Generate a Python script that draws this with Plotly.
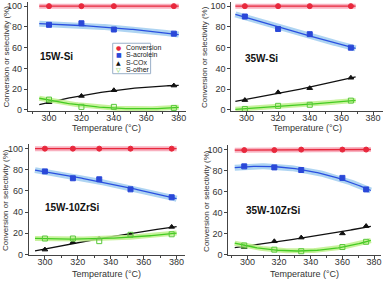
import numpy as np
import plotly.graph_objects as go

# ---------------- data ----------------
panel_names = ["15W-Si", "35W-Si", "15W-10ZrSi", "35W-10ZrSi"]

temp_15WSi = [300, 320, 340, 377]
conv_15WSi = [100, 100, 100, 100]
acro_15WSi = [82, 83.5, 77.5, 73.5]
cox_15WSi = [7.5, 13.5, 19, 23.5]
other_15WSi = [10, 3, 3, 2]

temp_35WSi = [299, 320, 340, 366]
conv_35WSi = [100, 100, 100, 100]
acro_35WSi = [90, 78, 73, 60]
cox_35WSi = [9.5, 17, 21, 31]
other_35WSi = [1, 4, 5, 9]

temp_15W10Zr = [300, 317, 333, 352, 377]
conv_15W10Zr = [100, 100, 100, 100, 100]
acro_15W10Zr = [78.5, 72, 71, 61.5, 54]
cox_15W10Zr = [4.5, 11.5, 15, 18.5, 26]
other_15W10Zr = [15, 15, 12.5, 18.5, 19]

temp_35W10Zr = [298, 317, 334, 360, 375]
conv_35W10Zr = [99.5, 99.5, 100, 100, 100]
acro_35W10Zr = [84, 83, 80.5, 73, 62]
cox_35W10Zr = [7, 12.5, 16, 20, 27]
other_35W10Zr = [8.5, 4.5, 3, 7, 12]

series_names = ["Conversion", "S-acrolein", "S-COx", "S-other"]
fit_degree = [1, 2, 2, 2]
x_ticks = [300, 320, 340, 360, 380]
y_ticks = [0, 20, 40, 60, 80, 100]
x_title = "Temperature (°C)"
y_title = "Conversion or selectivity (%)"

panels = [
    (temp_15WSi, [conv_15WSi, acro_15WSi, cox_15WSi, other_15WSi]),
    (temp_35WSi, [conv_35WSi, acro_35WSi, cox_35WSi, other_35WSi]),
    (temp_15W10Zr, [conv_15W10Zr, acro_15W10Zr, cox_15W10Zr, other_15W10Zr]),
    (temp_35W10Zr, [conv_35W10Zr, acro_35W10Zr, cox_35W10Zr, other_35W10Zr]),
]

# ---------------- style ----------------
W, H = 387, 283
FONT = "Arial, Liberation Sans, Helvetica, sans-serif"
marker_sym = ["circle", "square", "triangle-up", "square-open"]
marker_col = ["#e8283c", "#2a48d8", "#111111", "#58c83a"]
line_col = ["#e8283c", "#2a50e0", "#111111", "#44cc22"]
band_col = ["rgba(245,150,170,0.75)", "rgba(160,205,240,0.85)", None, "rgba(190,240,140,0.85)"]
band_w = [5, 6, 0, 5]

# pixel boxes: (x0, x1, ytop, ybottom), x ranges
boxes = [(28, 186, 1, 112), (232, 384, 1, 112), (29, 185, 146, 259), (229, 382, 147, 259)]
xranges = [[287, 384.2], [290.5, 386.3], [290.3, 384.8], [288, 384.4]]
yrange = [-1, 104]
label_pos = [(38, 57), (244, 59), (43, 210), (245, 213)]
xtitle_y = [129, 129, 278, 278]
ytitle_x = [7, 205, 6, 207]

fig = go.Figure()
layout = {}
annotations = []
for i, (T, ser) in enumerate(panels):
    ax = "" if i == 0 else str(i + 1)
    x0, x1, yt, yb = boxes[i]
    layout["xaxis" + ax] = dict(
        domain=[x0 / W, x1 / W], range=xranges[i], anchor="y" + ax,
        tickvals=x_ticks, ticks="outside", ticklen=3, tickwidth=1, ticklabelstandoff=-5,
        minor=dict(dtick=10, tick0=300, ticks="outside", ticklen=2, tickcolor="#444"),
        showline=True, linecolor="#444", linewidth=1, tickcolor="#444",
        showgrid=False, zeroline=False, ticklabeloverflow="allow",
        tickfont=dict(family=FONT, size=9, color="#333"),
    )
    layout["yaxis" + ax] = dict(
        domain=[1 - yb / H, 1 - yt / H], range=yrange, anchor="x" + ax,
        tickvals=y_ticks, ticks="outside", ticklen=3, tickwidth=1,
        showline=True, linecolor="#444", linewidth=1, tickcolor="#444",
        showgrid=False, zeroline=False,
        tickfont=dict(family=FONT, size=9, color="#333"),
    )
    annotations.append(dict(text=x_title, x=(x0 + x1) / 2 / W, y=1 - xtitle_y[i] / H,
                            xref="paper", yref="paper", showarrow=False,
                            xanchor="center", yanchor="middle",
                            font=dict(family=FONT, size=9, color="#333")))
    annotations.append(dict(text=y_title, x=ytitle_x[i] / W, y=1 - (yt + yb) / 2 / H,
                            xref="paper", yref="paper", showarrow=False, textangle=-90,
                            xanchor="center", yanchor="middle",
                            font=dict(family=FONT, size=8, color="#333")))
    xs = np.linspace(min(T) - 6, max(T) + 3, 80)
    for k, vals in enumerate(ser):
        coef = np.polyfit(T, vals, fit_degree[k])
        ys = np.polyval(coef, xs)
        if band_col[k]:
            fig.add_trace(go.Scatter(x=xs, y=ys, mode="lines", xaxis="x" + ax, yaxis="y" + ax,
                                     line=dict(color=band_col[k], width=band_w[k]),
                                     showlegend=False, hoverinfo="skip"))
        fig.add_trace(go.Scatter(x=xs, y=ys, mode="lines", xaxis="x" + ax, yaxis="y" + ax,
                                 line=dict(color=line_col[k], width=1.3),
                                 showlegend=False, hoverinfo="skip"))
        fig.add_trace(go.Scatter(x=T, y=vals, mode="markers", xaxis="x" + ax, yaxis="y" + ax,
                                 name=series_names[k], showlegend=False,
                                 marker=dict(symbol=marker_sym[k], size=5, color=marker_col[k],
                                             line=dict(width=1, color=marker_col[k]))))

for i, name in enumerate(panel_names):
    lx, ly = label_pos[i]
    annotations.append(dict(text="<b>%s</b>" % name, x=lx / W, y=1 - ly / H, xref="paper", yref="paper",
                            xanchor="left", yanchor="middle", showarrow=False,
                            font=dict(family=FONT, size=10, color="#111")))

# manual compact legend in panel 1
leg_x0, leg_y0, leg_x1, leg_y1 = 113, 43, 151, 74
shapes = [dict(type="rect", xref="paper", yref="paper", x0=leg_x0 / W, x1=leg_x1 / W,
               y0=1 - leg_y1 / H, y1=1 - leg_y0 / H, line=dict(color="#9ab0c8", width=1),
               fillcolor="white")]
leg_sym = ["●", "■", "▲", "▽"]
for k, nm in enumerate(series_names):
    yy = 1 - (leg_y0 + 4.5 + k * 7.3) / H
    annotations.append(dict(text=leg_sym[k], x=(leg_x0 + 6) / W, y=yy, xref="paper", yref="paper",
                            showarrow=False, xanchor="center", yanchor="middle",
                            font=dict(family="DejaVu Sans", size=6, color=marker_col[k])))
    annotations.append(dict(text=nm, x=(leg_x0 + 11) / W, y=yy, xref="paper", yref="paper",
                            showarrow=False, xanchor="left", yanchor="middle",
                            font=dict(family=FONT, size=7, color="#222")))

fig.update_layout(width=W, height=H, margin=dict(l=0, r=0, t=0, b=0),
                  paper_bgcolor="white", plot_bgcolor="white",
                  annotations=annotations, shapes=shapes, showlegend=False, **layout)
fig.write_html("out.html", config={"displayModeBar": False},
               post_script="document.body.style.margin='0';document.body.style.overflow='hidden';")
